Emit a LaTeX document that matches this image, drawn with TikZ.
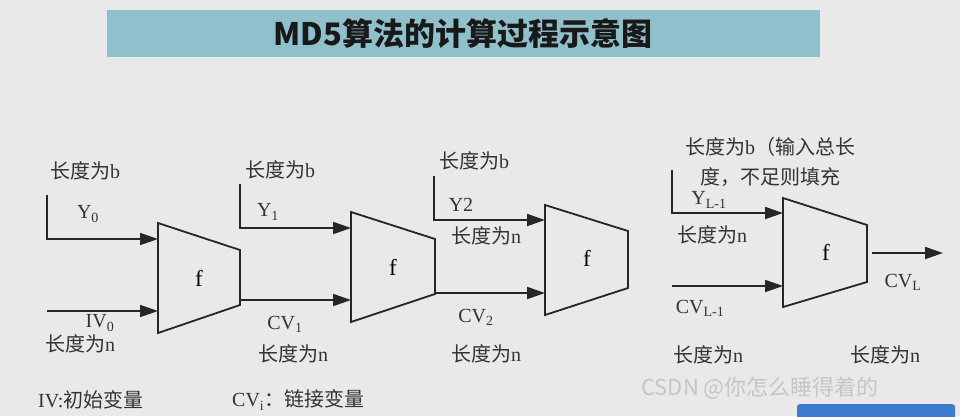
\documentclass[tikz,border=0pt]{standalone}
\usepackage{fontspec}
\setmainfont{Liberation Serif}
\newfontfamily\cjk{Noto Sans CJK SC}
\newcommand{\zh}[1]{{\cjk #1}}
\usetikzlibrary{arrows.meta}
\definecolor{bg}{HTML}{E9E9E9}
\definecolor{banner}{HTML}{8FC0CC}
\definecolor{bar}{HTML}{3D7BD0}
\tikzset{
  trap/.style={draw=black!85, line width=1.8pt, fill=none},
  arr/.style={draw=black!85, line width=1.8pt, -{Triangle[length=18pt,width=12pt]}},
  lbl/.style={font=\fontsize{20}{22}\selectfont, text=black!80, inner sep=0pt},
  fl/.style={font=\fontsize{23}{25}\selectfont, inner sep=0pt},
}
\begin{document}
\begin{tikzpicture}[x=1pt,y=-1pt]
\useasboundingbox (0,0) rectangle (960,416);
\fill[bg] (0,0) rectangle (960,416);
\fill[banner] (107,10) rectangle (820,57);
\node[font=\cjk\bfseries\fontsize{31}{34}\selectfont, text=black!90] (title) at (463,34) {MD5算法的计算过程示意图};
% trapezoids
\draw[trap] (158,223) -- (240,250) -- (240,305) -- (158,333) -- cycle;
\draw[trap] (351,212) -- (435,239) -- (435,294) -- (351,322) -- cycle;
\draw[trap] (545,205) -- (628,231) -- (628,288) -- (545,315) -- cycle;
\draw[trap] (783,198) -- (867,225) -- (867,282) -- (783,307) -- cycle;
\node[fl] (f1) at (199,278) {f};
\node[fl] (f2) at (393,267) {f};
\node[fl] (f3) at (587,258) {f};
\node[fl] (f4) at (826,252) {f};
% coordinates
\coordinate (y0s) at (47,195); \coordinate (y0c) at (47,239); \coordinate (y0e) at (158,239);
\coordinate (ivs) at (47,311); \coordinate (ive) at (158,311);
\coordinate (y1s) at (240,184); \coordinate (y1c) at (240,228); \coordinate (y1e) at (351,228);
\coordinate (c1s) at (240,300); \coordinate (c1e) at (351,300);
\coordinate (y2s) at (434,176); \coordinate (y2c) at (434,220); \coordinate (y2e) at (545,220);
\coordinate (c2s) at (435,293); \coordinate (c2e) at (545,293);
\coordinate (yls) at (672,170); \coordinate (ylc) at (672,213); \coordinate (yle) at (783,213);
\coordinate (cls) at (672,286); \coordinate (cle) at (783,286);
\coordinate (cLs) at (872,253); \coordinate (cLe) at (943,253);
\draw[arr] (y0s) -- (y0c) -- (y0e);
\draw[arr] (ivs) -- (ive);
\draw[arr] (y1s) -- (y1c) -- (y1e);
\draw[arr] (c1s) -- (c1e);
\draw[arr] (y2s) -- (y2c) -- (y2e);
\draw[arr] (c2s) -- (c2e);
\draw[arr] (yls) -- (ylc) -- (yle);
\draw[arr] (cls) -- (cle);
\draw[arr] (cLs) -- (cLe);
% labels
\node[lbl] (b0) at (85,171) {\zh{长度为}b};
\node[lbl] (ly0) at (88,214) {Y\textsubscript{0}};
\node[lbl] (liv) at (100,323) {IV\textsubscript{0}};
\node[lbl] (n0) at (80,344) {\zh{长度为}n};
\node[lbl] (b1) at (280,170) {\zh{长度为}b};
\node[lbl] (ly1) at (268,212) {Y\textsubscript{1}};
\node[lbl] (lc1) at (285,324) {CV\textsubscript{1}};
\node[lbl] (n1) at (293,354) {\zh{长度为}n};
\node[lbl] (b2) at (474,161) {\zh{长度为}b};
\node[lbl] (ly2) at (461,205) {Y2};
\node[lbl] (n2a) at (486,236) {\zh{长度为}n};
\node[lbl] (lc2) at (476,317) {CV\textsubscript{2}};
\node[lbl] (n2) at (486,354) {\zh{长度为}n};
\node[lbl] (bl1) at (770,147) {\zh{长度为}b\zh{（输入总长}};
\node[lbl] (bl2) at (770,177) {\zh{度，不足则填充}};
\node[lbl] (lyl) at (709,200) {Y\textsubscript{L-1}};
\node[lbl] (nla) at (712,235) {\zh{长度为}n};
\node[lbl] (lcl) at (700,308) {CV\textsubscript{L-1}};
\node[lbl] (nl) at (708,355) {\zh{长度为}n};
\node[lbl] (lcL) at (903,282) {CV\textsubscript{L}};
\node[lbl] (nL) at (885,355) {\zh{长度为}n};
\node[lbl, anchor=west] (iv) at (38,400) {IV:\zh{初始变量}};
\node[lbl, anchor=west] (cvi) at (232,400) {CV\textsubscript{i}\zh{：链接变量}};
\node[font=\cjk\fontsize{22}{24}\selectfont, text=white!55!gray, inner sep=0pt] (wm) at (760,388) {CSDN @你怎么睡得着的};
\fill[bar, rounded corners=3pt] (797,404) rectangle (955,420);
\end{tikzpicture}
\end{document}
